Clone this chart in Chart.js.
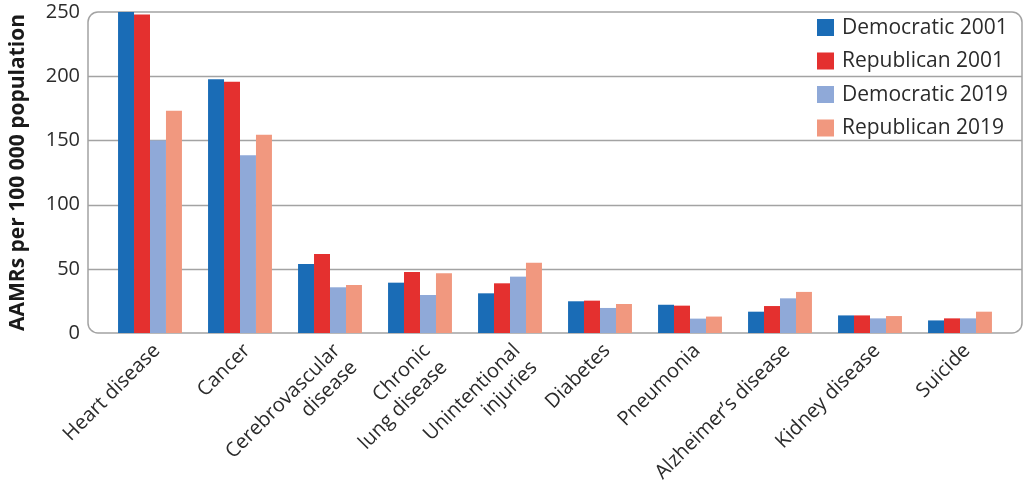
<!DOCTYPE html>
<html>
<head>
<meta charset="utf-8">
<script src="https://cdn.jsdelivr.net/npm/chart.js@4"></script>
<style>
  html, body { margin: 0; padding: 0; background: #fff; }
  #wrap { width: 1024px; height: 488px; }
</style>
</head>
<body>
<div id="wrap"><canvas id="BarChart" width="1024" height="488"></canvas></div>
<script>
const causes = [
    'Heart disease',
    'Cancer',
    ['Cerebrovascular', 'disease'],
    ['Chronic', 'lung disease'],
    ['Unintentional', 'injuries'],
    'Diabetes',
    'Pneumonia',
    'Alzheimer\u2019s disease',
    'Kidney disease',
    'Suicide'
];
const dem_2001 = [250, 197.6, 53.7, 39.2, 30.9, 24.7, 22.0, 16.6, 13.7, 9.8];
const rep_2001 = [248, 195.7, 61.5, 47.5, 38.7, 25.2, 21.3, 21.0, 13.7, 11.4];
const dem_2019 = [150, 138.4, 35.6, 29.6, 43.9, 19.5, 11.2, 27.0, 11.4, 11.4];
const rep_2019 = [173, 154.4, 37.4, 46.5, 54.8, 22.6, 12.8, 32.0, 13.2, 16.6];
const y_ticks = [0, 50, 100, 150, 200, 250];

const FONT = "'Open Sans', 'Noto Sans', sans-serif";
const TEXT = '#2b2b2b';

// rounded frame, grid lines and legend drawn round the chart area
const framePlugin = {
    id: 'frame',
    beforeDatasetsDraw(chart) {
        const ctx = chart.ctx;
        const a = chart.chartArea;
        const y = chart.scales.y;
        const l = a.left - 17, r = a.right + 17;
        ctx.save();
        ctx.strokeStyle = '#a3a3a3';
        ctx.lineWidth = 1.5;
        y_ticks.forEach(function (v) {
            if (v === 0 || v === 250) return;
            const py = Math.round(y.getPixelForValue(v)) + 0.5;
            ctx.beginPath();
            ctx.moveTo(l, py);
            ctx.lineTo(r, py);
            ctx.stroke();
        });
        ctx.beginPath();
        ctx.roundRect(l, a.top, r - l, a.bottom - a.top, 10);
        ctx.stroke();
        ctx.restore();
    },
    afterDraw(chart) {
        const ctx = chart.ctx;
        const a = chart.chartArea;
        ctx.save();
        ctx.font = '21px ' + FONT;
        ctx.textBaseline = 'middle';
        ctx.textAlign = 'left';
        chart.data.datasets.forEach(function (ds, i) {
            const cy = a.top + 15 + i * 33.5;
            const bx = a.right - 188;
            ctx.fillStyle = ds.backgroundColor;
            ctx.fillRect(bx, cy - 8, 17, 17);
            ctx.fillStyle = TEXT;
            ctx.fillText(ds.label, bx + 25, cy + 1);
        });
        ctx.restore();
    }
};

const bar_data = {
    labels: causes,
    datasets: [
        { label: 'Democratic 2001', data: dem_2001, backgroundColor: '#1a6cb6' },
        { label: 'Republican 2001', data: rep_2001, backgroundColor: '#e4302f' },
        { label: 'Democratic 2019', data: dem_2019, backgroundColor: '#8fa9d8' },
        { label: 'Republican 2019', data: rep_2019, backgroundColor: '#f1987f' }
    ]
};

const configBar = {
    type: 'bar',
    data: bar_data,
    options: {
        responsive: false,
        animation: false,
        layout: { padding: { top: 12, right: 19, left: 0, bottom: 0 } },
        datasets: {
            bar: { barPercentage: 1.0, categoryPercentage: 0.71 }
        },
        plugins: {
            legend: { display: false },
            tooltip: { enabled: false }
        },
        scales: {
            x: {
                grid: { display: false, drawTicks: false },
                border: { display: false },
                ticks: {
                    font: { family: FONT, size: 20 },
                    color: TEXT,
                    minRotation: 45,
                    maxRotation: 45,
                    autoSkip: false,
                    padding: 6,
                    labelOffset: 7
                },
                afterFit(scale) {
                    scale.height = 155;
                    scale.paddingLeft = 0;
                    scale.paddingRight = 0;
                }
            },
            y: {
                min: 0,
                max: 250,
                grid: { display: false, drawTicks: false },
                border: { display: false },
                afterBuildTicks(scale) {
                    scale.ticks = y_ticks.map(function (v) { return { value: v }; });
                },
                ticks: {
                    font: { family: FONT, size: 20 },
                    color: TEXT,
                    padding: 25
                },
                title: {
                    display: true,
                    text: 'AAMRs per 100 000 population',
                    font: { family: FONT, size: 21, weight: 'bold' },
                    color: '#1a1a1a',
                    padding: { top: 5, bottom: 0 }
                },
                afterFit(scale) {
                    scale.width = 105;
                    scale.paddingTop = 0;
                    scale.paddingBottom = 0;
                }
            }
        }
    },
    plugins: [framePlugin]
};

const BarChart = new Chart(
    document.getElementById('BarChart'),
    configBar
);
</script>
</body>
</html>
